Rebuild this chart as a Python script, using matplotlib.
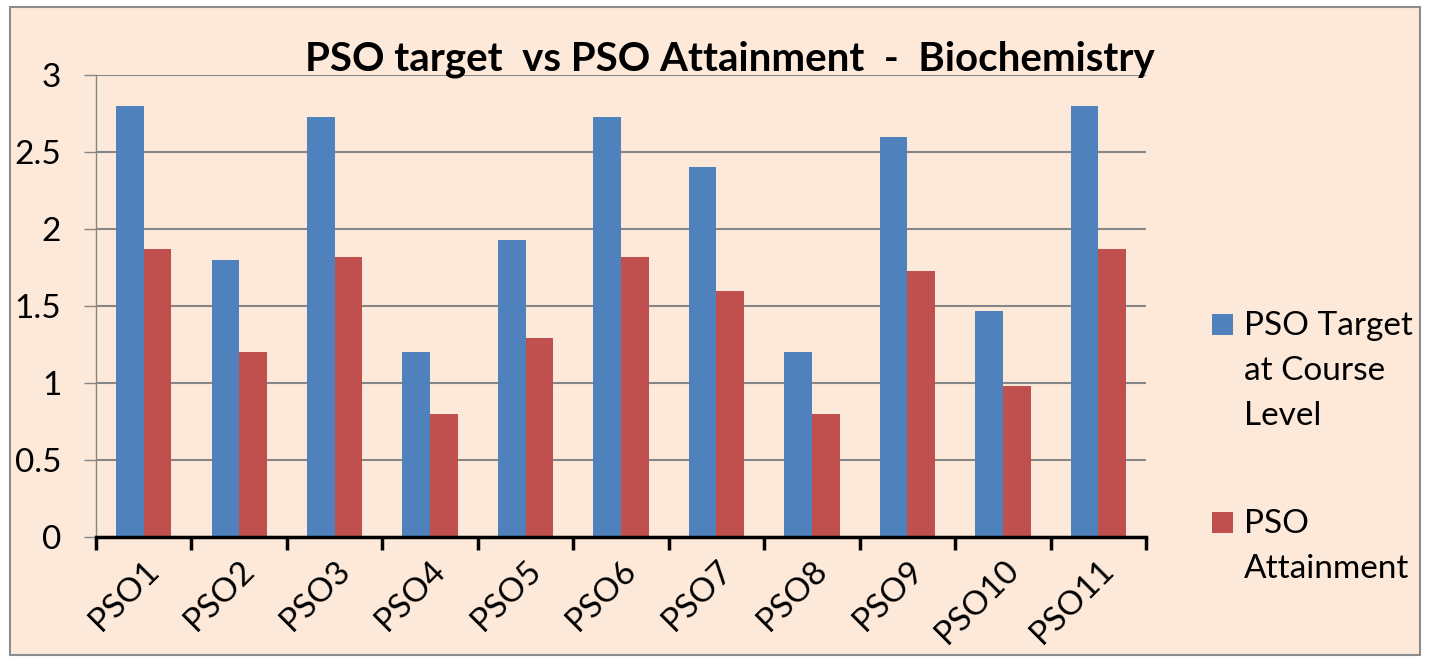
import matplotlib.pyplot as plt
import numpy as np
from matplotlib.patches import Rectangle

plt.rcParams['font.family'] = ['Lato', 'DejaVu Sans']

# PSO values
categories = ['PSO1', 'PSO2', 'PSO3', 'PSO4', 'PSO5', 'PSO6', 'PSO7', 'PSO8', 'PSO9', 'PSO10', 'PSO11']
target = [2.8, 1.8, 2.73, 1.2, 1.93, 2.73, 2.4, 1.2, 2.6, 1.47, 2.8]
attainment = [1.87, 1.2, 1.82, 0.8, 1.29, 1.82, 1.6, 0.8, 1.73, 0.98, 1.87]
yticks = [0, 0.5, 1, 1.5, 2, 2.5, 3]
ytick_labels = ['0', '0.5', '1', '1.5', '2', '2.5', '3']

bg = '#FDE9D9'
blue = '#4F81BD'
red = '#C0504D'
grey = '#868686'

W, H = 1429, 663
fig = plt.figure(figsize=(W / 100, H / 100), dpi=100, facecolor='white')

# chart area background with grey border
fig.patches.append(Rectangle((10 / W, 1 - 655 / H), 1410 / W, 648 / H,
                             transform=fig.transFigure, facecolor=bg,
                             edgecolor='#8c8c8c', linewidth=1.5, zorder=-10))

ax = fig.add_axes([96 / W, 1 - 537 / H, 1050 / W, 462 / H])
ax.set_facecolor('none')

x = np.arange(len(categories))
w = 0.29
ax.bar(x - w / 2, target, width=w, color=blue, zorder=3)
ax.bar(x + w / 2, attainment, width=w, color=red, zorder=3)

ax.set_xlim(-0.5, len(categories) - 0.5)
ax.set_ylim(0, 3)
ax.set_yticks(yticks)
ax.set_yticklabels(ytick_labels, fontsize=24)
ax.yaxis.grid(True, color=grey, linewidth=1.5, zorder=0)
ax.set_axisbelow(True)

ax.set_xticks(x)
ax.set_xticklabels(categories, fontsize=24, rotation=45, ha='right',
                   rotation_mode='anchor')
ax.set_xticks(np.arange(len(categories) + 1) - 0.5, minor=True)
ax.tick_params(axis='x', which='major', length=0, pad=13)
ax.tick_params(axis='x', which='minor', length=9, width=2.5, color='black', direction='out')
ax.tick_params(axis='y', length=9, width=1, color=grey, pad=16)

for s in ['top', 'right']:
    ax.spines[s].set_visible(False)
ax.spines['left'].set_color(grey)
ax.spines['left'].set_linewidth(1)
ax.spines['bottom'].set_color('black')
ax.spines['bottom'].set_linewidth(2.5)
ax.spines['bottom'].set_zorder(4)

fig.text(730 / W, 1 - 59 / H, 'PSO target  vs PSO Attainment  -  Biochemistry',
         ha='center', va='center', fontsize=29, fontweight='bold')

# legend drawn by hand so the swatch sits on the first text line
legend_items = [('PSO Target\nat Course\nLevel', blue, 325), ('PSO\nAttainment', red, 523)]
for label, col, ytop in legend_items:
    fig.patches.append(Rectangle((1212 / W, 1 - (ytop + 10) / H), 21 / W, 21 / H,
                                 transform=fig.transFigure, facecolor=col, zorder=5))
    fig.text(1244 / W, 1 - (ytop - 14) / H, label, ha='left', va='top',
             fontsize=24, linespacing=1.63)

fig.savefig('out.png', dpi=100, facecolor='white')
